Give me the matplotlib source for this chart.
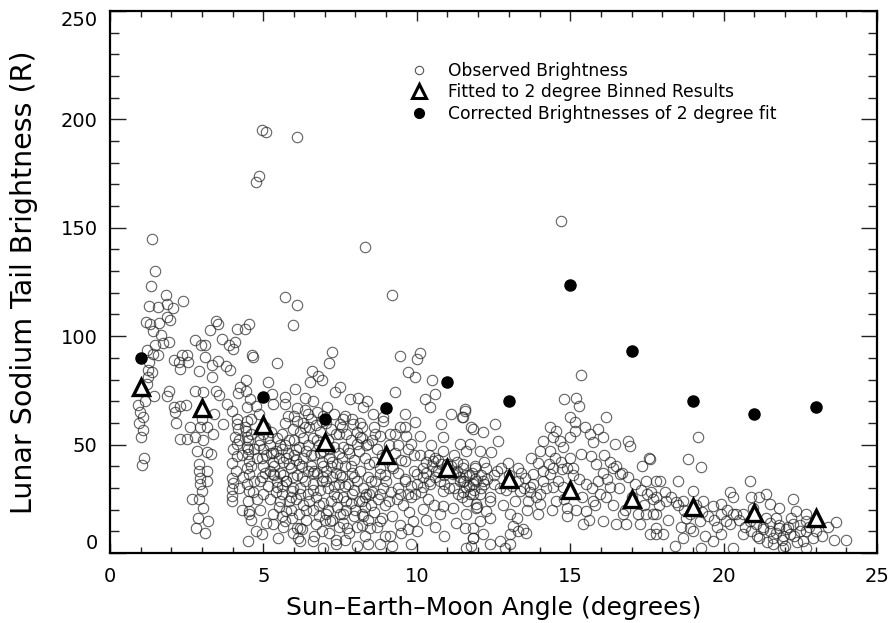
import numpy as np
import matplotlib
matplotlib.use("Agg")
import matplotlib.pyplot as plt
from matplotlib.lines import Line2D
from matplotlib.ticker import MultipleLocator

# observed brightness (angle, R)
obs_high = [(4.97, 195), (5.1, 194), (6.08, 192), (4.86, 174), (4.75, 171),
            (1.38, 145), (1.48, 130), (1.33, 123), (1.81, 119), (2.38, 116),
            (5.7, 118), (6.1, 114.6), (5.96, 105), (8.3, 141), (9.2, 119),
            (14.7, 153), (15.36, 82), (14.8, 71), (15.2, 71.5), (15.3, 68)]

obs_0_3 = [(1.28, 113.8), (1.57, 113.4), (1.85, 115), (2.06, 113), (1.17, 106.4),
           (1.30, 105.7), (1.61, 106), (1.85, 108.8), (1.95, 107.5), (1.41, 102.6),
           (1.65, 100.6), (1.47, 95.7), (1.74, 96.7), (1.93, 97.5), (1.19, 93.8),
           (1.41, 91.8), (1.57, 91.5), (1.28, 88), (1.25, 84.4), (1.36, 83.3),
           (1.25, 81), (1.43, 72.6), (0.92, 68.4), (0.98, 64.8), (1.08, 62.8),
           (0.95, 59.8), (1.08, 56.7), (1.0, 53.6), (1.11, 44), (1.04, 40.7),
           (1.93, 74.9), (1.85, 72.2), (2.08, 89.2), (2.25, 88.3), (2.33, 91.5),
           (2.52, 91.5), (2.55, 88), (2.28, 84.9), (2.08, 67.5), (2.28, 68),
           (2.48, 68.4), (2.12, 64.8), (2.15, 59.9), (2.28, 52.5), (2.52, 52.8),
           (2.77, 98.3), (2.97, 95.7), (2.9, 83.8), (2.77, 74.9), (2.6, 57.9),
           (2.77, 53.6), (2.93, 57.9), (2.82, 47.1), (2.91, 41), (2.91, 37.9),
           (2.93, 34.8), (2.93, 31.7), (2.99, 28.7), (2.91, 24.8), (2.68, 24.8),
           (2.88, 16.3), (2.8, 11.7), (1.05, 75), (1.15, 70), (1.2, 78)]

obs_3_5 = [(3.09, 95.7), (3.09, 90.3), (3.31, 86.7), (3.53, 88.7), (3.31, 81),
           (3.44, 74.9), (3.04, 74.1), (3.15, 57.9), (3.04, 52.1), (3.15, 46.7),
           (3.15, 37.9), (3.15, 33.3), (3.04, 20.9), (3.09, 9.4), (3.2, 14.8),
           (3.29, 45.6), (3.36, 54.8), (3.55, 72.9), (3.64, 98.8), (3.26, 102.9),
           (3.47, 107.2), (3.53, 105.7), (3.88, 95.7), (4.02, 94.1), (4.07, 97.2),
           (4.15, 103.4), (4.4, 103.4), (4.54, 105.7), (4.65, 90.6), (4.62, 91.5),
           (3.78, 86.4), (3.91, 84.4), (4.23, 76.4), (4.42, 74.9), (4.18, 73.6),
           (3.81, 68.7), (3.96, 65.6), (4.42, 79.8), (4.56, 71), (4.76, 67.9),
           (4.86, 64.1), (3.69, 59.5), (4.13, 61.8), (4.13, 59.5), (4.18, 57.2),
           (4.07, 53.3), (4.13, 50.2), (4.02, 47.9), (4.13, 44.8), (3.96, 41.7),
           (3.96, 34.8), (4.0, 32.5), (3.96, 29.4), (3.96, 26.3), (3.98, 24),
           (4.45, 67.1), (4.45, 61), (4.42, 56.4), (4.47, 53.3), (4.45, 48.7),
           (4.5, 45.6), (4.54, 42.5), (4.45, 39.4), (4.52, 36.4), (4.47, 31.7),
           (4.52, 28.7), (4.5, 24), (4.52, 19.4), (4.54, 17.9), (4.5, 5.5),
           (4.94, 8.6), (4.1, 38), (4.3, 45), (4.5, 52), (4.7, 48), (4.6, 40),
           (4.8, 44), (4.4, 58), (4.6, 62), (4.2, 30), (4.7, 33), (4.8, 25),
           (4.3, 20), (4.6, 15), (4.75, 10), (4.9, 20), (3.0, 62), (3.4, 64)]

obs_5_8 = [(5.16, 78.7), (5.27, 73.3), (5.32, 68.7), (5.7, 68.7), (5.45, 87.5),
           (5.0, 54.8), (4.9, 52), (5.0, 48), (5.1, 45), (5.2, 50), (5.3, 42),
           (5.4, 47), (5.0, 40), (5.2, 38), (5.5, 44), (4.95, 35), (5.15, 31),
           (5.35, 36), (5.45, 53), (5.25, 56), (5.05, 58), (5.4, 28), (5.2, 25),
           (5.5, 21), (5.3, 18), (5.1, 14), (5.32, 36.4), (4.89, 33.3),
           (5.43, 30.2), (5.75, 33.3), (5.0, 27.1), (5.54, 24), (5.92, 28.7),
           (5.75, 19.4), (5.32, 13.3), (5.59, 17.1), (5.92, 16.3), (6.08, 11.7),
           (5.48, 7.1), (6.19, 5.5), (5.6, 55), (5.7, 50), (5.8, 46), (5.65, 42),
           (5.9, 39), (5.55, 37), (5.75, 33), (5.95, 30), (5.6, 27), (5.85, 24),
           (5.7, 60), (5.95, 57), (5.8, 63), (6.0, 52), (6.0, 45), (5.9, 20),
           (5.65, 12), (5.95, 9), (6.1, 61), (6.2, 56), (6.3, 53), (6.15, 49),
           (6.4, 47), (6.05, 43), (6.25, 40), (6.45, 38), (6.1, 36), (6.35, 33),
           (6.2, 30), (6.45, 27), (6.05, 25), (6.3, 22), (6.15, 18), (6.4, 15),
           (6.25, 11), (6.45, 64), (6.35, 66), (6.5, 58), (6.1, 67), (6.55, 62),
           (6.7, 59), (6.85, 56), (6.6, 53), (6.8, 50), (6.95, 47), (6.65, 45),
           (6.9, 42), (6.55, 40), (6.75, 37), (6.95, 35), (6.6, 32), (6.85, 29),
           (6.7, 26), (6.95, 23), (6.6, 20), (6.8, 17), (6.9, 10), (6.65, 8),
           (6.75, 65), (6.95, 63), (7.22, 92.9), (7.15, 87.5), (6.57, 83.8),
           (6.79, 81.8), (6.9, 79.8), (6.51, 78.7), (7.49, 76.7), (7.33, 74.1),
           (6.03, 75.6), (5.7, 71.8), (6.35, 71.5), (6.62, 70.2), (7.06, 67.1),
           (7.82, 71), (7.65, 63.3), (7.49, 59.5), (7.93, 59.5), (5.7, 14.8),
           (6.13, 7.1), (6.62, 5.5), (6.95, 2.4), (7.38, 4), (7.71, 11.7),
           (7.17, 14.8), (6.73, 13.3), (6.19, 11.7), (7.49, 17.9),
           (7.05, 60), (7.2, 57), (7.35, 55), (7.1, 52), (7.3, 49), (7.45, 46),
           (7.15, 44), (7.4, 41), (7.05, 38), (7.25, 35), (7.45, 32), (7.1, 30),
           (7.3, 27), (7.2, 24), (7.4, 21), (7.05, 18), (7.25, 15), (7.45, 12),
           (7.15, 9), (7.35, 6), (7.3, 64), (7.55, 58), (7.7, 55), (7.85, 52),
           (7.6, 49), (7.8, 46), (7.95, 43), (7.65, 40), (7.9, 37), (7.55, 35),
           (7.75, 32), (7.95, 29), (7.6, 26), (7.85, 23), (7.7, 20), (7.95, 17),
           (7.6, 14), (7.8, 9), (7.65, 6), (7.9, 62), (5.3, 46), (5.6, 48),
           (5.85, 41), (6.3, 44), (6.6, 37), (6.9, 33), (7.2, 40), (7.5, 36)]

# extra marks in the darkest part of the cloud
obs_core = [(4.85, 50), (4.95, 44), (5.05, 37), (5.15, 53), (5.25, 46), (5.35, 40),
            (5.45, 33), (5.55, 50), (5.65, 36), (5.75, 44), (5.85, 52), (5.95, 35),
            (6.05, 48), (6.15, 41), (6.25, 35), (6.35, 58), (6.45, 50), (6.55, 45),
            (6.65, 38), (6.75, 52), (6.85, 46), (6.95, 40), (7.05, 33), (7.15, 48),
            (7.25, 42), (7.35, 37), (7.45, 55), (7.55, 44), (7.65, 31), (7.75, 48),
            (7.85, 40), (7.95, 35), (6.2, 27), (6.5, 24), (6.8, 22), (7.1, 20),
            (7.4, 26), (7.7, 24), (8.0, 20), (8.3, 26), (6.4, 20), (7.0, 15),
            (7.6, 18), (8.2, 13), (5.6, 31), (5.9, 26), (6.6, 29), (7.3, 31),
            (7.9, 27), (8.5, 33), (8.8, 27), (9.1, 24), (9.4, 30), (9.7, 27),
            (10.0, 32), (10.3, 37), (10.6, 35), (10.9, 32), (11.2, 30), (11.5, 28),
            (11.8, 37), (12.1, 30), (10.4, 45), (10.7, 43), (11.0, 41), (11.3, 38),
            (11.6, 36), (11.9, 40), (12.2, 32), (12.5, 36), (6.0, 63), (6.3, 60),
            (6.9, 61), (7.6, 62), (8.2, 58), (8.8, 54), (9.4, 50), (4.5, 48),
            (4.6, 55), (4.2, 52), (4.35, 35), (4.65, 28)]

obs_8_12 = [(8.09, 71.5), (8.38, 70.2), (8.25, 67.5), (9.45, 91), (10.1, 92.1),
            (9.99, 89.5), (9.28, 74.4), (9.7, 83.3), (9.93, 81), (10.48, 79.8),
            (10.59, 73.3), (10.26, 71), (10.42, 67.1), (9.61, 64.1), (9.93, 60.2),
            (8.58, 64.1), (8.9, 62.5), (10.8, 59.5), (11.13, 64.1), (11.46, 62.8),
            (11.56, 65.6), (11.78, 57.9), (10.86, 53.3), (11.4, 50.2), (10.1, 54.1),
            (9.66, 54.1), (9.82, 50.2), (9.12, 54.8), (9.45, 57.9), (8.63, 54.8),
            (8.41, 50.2), (8.14, 53.3), (8.04, 50.2), (8.04, 3.2), (8.41, 4),
            (8.79, 4), (9.18, 3.2), (9.82, 4), (9.12, 7.9), (9.5, 9.4), (9.99, 10.2),
            (9.88, 14.8), (10.2, 20.2), (10.86, 21.7), (11.29, 14), (11.56, 11.7),
            (11.83, 7.1), (11.6, 2.4), (8.25, 17.1), (8.79, 14.8), (8.47, 11.7),
            (8.36, 27.1), (8.2, 24), (8.5, 22), (9.45, 27.1), (9.61, 33.3),
            (9.01, 33.3), (8.79, 36.4), (9.23, 39.4), (9.61, 42.5), (9.99, 36.4),
            (10.2, 30.2), (9.82, 25.6), (10.2, 39.4), (10.53, 42.5), (10.64, 37.9),
            (11.18, 36.4), (11.4, 33.3), (11.6, 30.2), (11.83, 27.1), (11.94, 33.3),
            (10.75, 33.3), (10.42, 31.7), (10.86, 28.7), (11.46, 25.6), (11.18, 20.9),
            (11.94, 20.9), (8.05, 56), (8.2, 53), (8.35, 50), (8.1, 47), (8.3, 44),
            (8.45, 41), (8.15, 38), (8.4, 35), (8.05, 33), (8.25, 30), (8.45, 27),
            (8.1, 24), (8.3, 21), (8.2, 18), (8.4, 15), (8.05, 12), (8.3, 8),
            (8.15, 60), (8.55, 52), (8.7, 48), (8.85, 45), (8.6, 42), (8.8, 39),
            (8.95, 36), (8.65, 33), (8.9, 30), (8.55, 28), (8.75, 25), (8.95, 22),
            (8.6, 19), (8.85, 16), (8.7, 12), (8.95, 8), (8.6, 58), (8.9, 61),
            (9.1, 50), (9.3, 46), (9.5, 43), (9.2, 40), (9.4, 37), (9.6, 34),
            (9.8, 31), (9.15, 28), (9.35, 25), (9.55, 22), (9.75, 19), (9.9, 45),
            (9.7, 48), (9.3, 55), (9.6, 58), (9.9, 38), (9.2, 17), (9.45, 13),
            (9.7, 11), (9.95, 27), (10.1, 45), (10.3, 42), (10.5, 40), (10.7, 38),
            (10.9, 36), (10.2, 35), (10.4, 33), (10.6, 44), (10.8, 41), (10.95, 39),
            (10.15, 28), (10.35, 25), (10.55, 22), (10.75, 18), (10.3, 15),
            (10.6, 12), (10.9, 8), (10.45, 50), (10.85, 47), (11.1, 40), (11.25, 37),
            (11.4, 35), (11.55, 33), (11.7, 31), (11.85, 29), (11.3, 42), (11.5, 39),
            (11.7, 36), (11.9, 34), (11.2, 45), (11.6, 47), (11.05, 30), (11.35, 27),
            (11.65, 24), (11.95, 21)]

obs_12_17 = [(11.56, 66.4), (11.5, 62.5), (11.83, 57.2), (12.16, 55.6), (12.54, 59.5),
             (12.65, 51.8), (11.73, 50.2), (12.05, 47.1), (12.43, 46.4), (11.5, 41),
             (11.89, 39.4), (12.27, 39.4), (11.5, 33.3), (11.83, 31.7), (12.16, 33.3),
             (11.73, 27.1), (12.05, 27.1), (12.38, 24), (11.94, 22.5), (12.27, 19.4),
             (11.6, 17.9), (12.05, 14.8), (12.38, 16.3), (11.83, 11.7), (12.16, 8.6),
             (11.78, 3.2), (12.38, 4), (12.7, 5.5), (13.03, 17.9), (13.25, 16.3),
             (13.14, 12.5), (13.03, 8.6), (13.03, 4), (12.87, 2.4), (13.3, 10.2),
             (13.46, 10.9), (13.57, 9.4), (12.76, 39.4), (12.98, 41.7), (13.3, 39.4),
             (13.52, 34.8), (13.73, 44), (13.95, 41.7), (13.79, 36.4), (14.11, 33.3),
             (14.33, 36.4), (13.68, 30.2), (14.01, 27.1), (13.63, 24), (14.01, 22.5),
             (13.36, 28.7), (14.11, 51.8), (14.33, 57.9), (14.55, 56.4), (14.44, 53.3),
             (14.66, 51.8), (14.01, 47.1), (14.33, 47.1), (14.77, 48.7), (14.98, 62.5),
             (15.15, 60.2), (15.15, 56.4), (14.98, 53.3), (15.47, 57.9), (15.64, 54.8),
             (15.9, 57.2), (15.74, 51), (16.17, 62.5), (16.07, 53.3), (16.45, 50.2),
             (16.88, 51.8), (16.94, 49.4), (14.98, 44), (15.36, 45.6), (15.69, 44.8),
             (15.09, 39.4), (14.72, 38.7), (14.44, 39.4), (15.85, 41), (16.07, 37.1),
             (16.4, 39.4), (16.61, 36.4), (17.56, 44), (17.35, 40.2), (17.8, 33.3),
             (17.48, 33.3), (15.96, 27.1), (16.17, 25.6), (16.29, 30.2), (15.74, 24),
             (15.52, 19.4), (15.41, 13.3), (16.07, 14.8), (16.5, 13.3), (16.71, 17.9),
             (16.82, 13.3), (17.26, 13.3), (17.48, 17.9), (17.59, 8.6), (17.8, 8.6),
             (14.88, 20.9), (14.88, 17.1), (13.95, 17.9), (14.55, 24), (14.44, 30.2),
             (14.77, 30.2), (11.83, 7.1), (12.1, 36), (12.3, 34), (12.5, 32),
             (12.7, 30), (12.9, 29), (13.1, 31), (13.3, 33), (13.5, 30), (13.7, 28),
             (13.9, 26), (12.2, 42), (12.6, 38), (13.0, 36), (13.4, 37), (13.8, 32),
             (12.4, 26), (12.8, 22), (13.2, 24), (13.6, 20), (14.1, 38), (14.3, 41),
             (14.5, 44), (14.7, 42), (14.9, 39), (15.1, 36), (15.3, 34), (15.5, 32),
             (15.7, 30), (15.9, 33), (14.2, 30), (14.6, 33), (15.0, 28), (15.4, 26),
             (15.8, 22), (14.8, 25), (15.2, 20), (15.6, 15), (14.4, 20), (16.1, 45),
             (16.3, 42), (16.5, 40), (16.7, 37), (16.9, 35), (17.1, 32), (17.3, 29),
             (17.5, 27), (17.7, 25), (16.2, 34), (16.6, 30), (17.0, 26), (17.4, 22),
             (16.4, 22), (16.8, 20), (17.2, 18)]

obs_17_25 = [(17.59, 43.3), (17.92, 33.3), (18.51, 33.3), (18.84, 43.3), (19.16, 53.6),
             (19.27, 39.7), (19.0, 28.7), (17.64, 27.9), (17.8, 25.6), (18.13, 24),
             (18.46, 23.3), (18.68, 24), (19.33, 24), (19.65, 21.7), (19.92, 22.5),
             (20.2, 27.9), (20.3, 25.6), (20.85, 33.3), (20.9, 25.6), (21.17, 25.6),
             (21.39, 27.1), (21.5, 22.5), (21.82, 20.9), (22.26, 24.8), (22.37, 19.4),
             (22.69, 17.9), (23.67, 14.5), (24.0, 5.9), (17.7, 17.9), (17.8, 11.7),
             (18.02, 8.6), (18.4, 3.2), (18.68, 7.1), (18.89, 11.7), (18.78, 16.3),
             (19.22, 14.8), (19.27, 2.4), (19.65, 5.5), (19.92, 8.6), (20.09, 14.8),
             (20.3, 2.4), (20.63, 8.6), (20.41, 17.9), (20.85, 14.8), (21.07, 13.3),
             (21.28, 10.9), (21.17, 7.1), (21.5, 10.2), (21.6, 7.1), (21.82, 11.7),
             (21.93, 7.9), (22.04, 10.9), (22.15, 8.6), (21.93, 2.4), (22.26, 13.3),
             (22.48, 10.2), (22.58, 5.5), (22.69, 14.8), (21.39, 16.3), (21.72, 16.3),
             (20.96, 20.9), (20.63, 17.9), (22.69, 2.4), (20.2, 13.3), (17.9, 22),
             (17.8, 18), (18.1, 28), (18.3, 26), (18.5, 22), (18.7, 20), (18.9, 18),
             (19.1, 22), (19.3, 19), (19.5, 17), (19.7, 15), (19.9, 18), (18.2, 15),
             (18.6, 12), (19.0, 10), (19.4, 8), (19.8, 12), (20.1, 20), (20.3, 18),
             (20.5, 15), (20.7, 12), (20.9, 10), (21.1, 8), (21.3, 12), (21.5, 14),
             (21.7, 9), (21.9, 6), (22.1, 12), (22.3, 8), (22.5, 13), (22.7, 10),
             (22.9, 7), (21.6, 4), (22.0, 3), (22.4, 5), (21.8, 13), (22.2, 16),
             (21.4, 5), (22.8, 12), (23.0, 10), (23.2, 8), (23.4, 12), (23.6, 6)]

# 2 degree binned fit (triangles) and corrected brightness (filled dots)
fit_angle = [1, 3, 5, 7, 9, 11, 13, 15, 17, 19, 21, 23]
fit_bright = [76.7, 67, 59, 51, 45, 39, 34, 29, 25, 21, 18.5, 16]
corr_angle = [1, 5, 7, 9, 11, 13, 15, 17, 19, 21, 23]
corr_bright = [90, 72, 62, 67, 79, 70, 123.5, 93, 70, 64, 67.5]

x_ticks = [0, 5, 10, 15, 20, 25]
y_ticks = [0, 50, 100, 150, 200, 250]

obs = (obs_high + obs_0_3 + obs_3_5 + obs_5_8 + obs_core + obs_8_12 +
       obs_12_17 + obs_17_25)
obs_x = [p[0] for p in obs]
obs_y = [p[1] for p in obs]

fig = plt.figure(figsize=(8.88, 6.23), dpi=100)
ax = fig.add_axes([0.1239, 0.1124, 0.8637, 0.8700])

ax.plot(obs_x, obs_y, 'o', ls='none', ms=7.5, mfc='none', mec='#252525',
        mew=0.8, alpha=0.72)
ax.plot(fit_angle, fit_bright, '^', ls='none', ms=11, mfc='white', mec='black',
        mew=2.4)
ax.plot(corr_angle, corr_bright, 'o', ls='none', ms=8, color='black')

ax.set_xlim(0, 25)
ax.set_ylim(0, 250)
ax.set_xticks(x_ticks)
ax.set_yticks(y_ticks)
ax.xaxis.set_minor_locator(MultipleLocator(1))
ax.yaxis.set_minor_locator(MultipleLocator(10))
ax.tick_params(axis='both', which='both', direction='in', top=True, right=True,
               width=1, labelsize=14, color='#222222')
ax.tick_params(axis='x', which='major', length=7, pad=10)
ax.tick_params(axis='x', which='minor', length=4)
ax.tick_params(axis='y', which='major', length=11.5, pad=9)
ax.tick_params(axis='y', which='minor', length=6.5)
for s in ax.spines.values():
    s.set_linewidth(1.6)

# the 0 and 250 labels sit just inside the frame
yticks = ax.yaxis.get_major_ticks()
yticks[0].label1.set_verticalalignment('bottom')
yticks[-1].label1.set_verticalalignment('top')

ax.set_xlabel('Sun\u2013Earth\u2013Moon Angle (degrees)', fontsize=18, labelpad=7)
ax.set_ylabel('Lunar Sodium Tail Brightness (R)', fontsize=20.5, labelpad=16)

handles = [
    Line2D([], [], marker='o', ls='none', ms=6, mfc='none', mec='#555555', mew=0.8),
    Line2D([], [], marker='^', ls='none', ms=10, mfc='white', mec='black', mew=2.2),
    Line2D([], [], marker='o', ls='none', ms=7, color='black'),
]
labels = ['Observed Brightness', 'Fitted to 2 degree Binned Results',
          'Corrected Brightnesses of 2 degree fit']
ax.legend(handles, labels, loc='upper left', bbox_to_anchor=(0.378, 0.9224),
          frameon=False, fontsize=12.3, handletextpad=1.1, labelspacing=0.22,
          handlelength=1.2, borderpad=0)

fig.savefig('out.png', dpi=100)
